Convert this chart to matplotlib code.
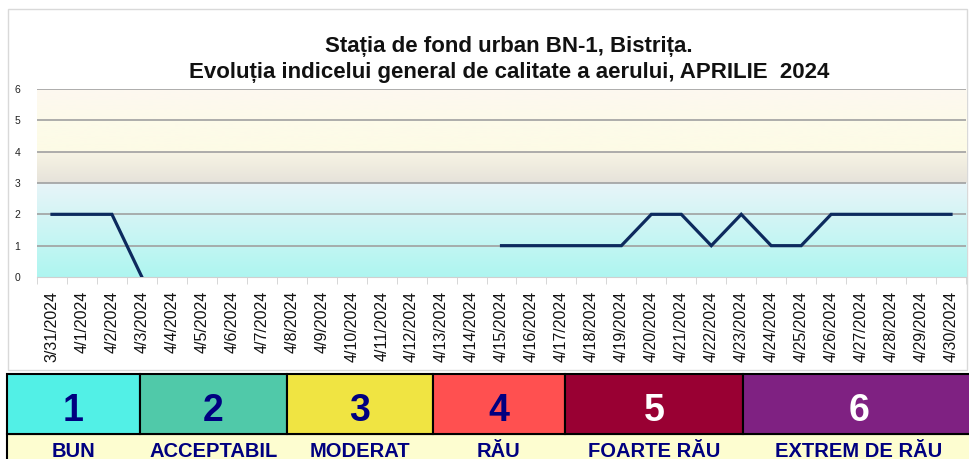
import numpy as np
import matplotlib
matplotlib.use("Agg")
import matplotlib.pyplot as plt
from matplotlib.colors import to_rgb
from matplotlib.patches import Rectangle

# ---- data ----
dates = ["3/31/2024"] + [f"4/{d}/2024" for d in range(1, 31)]
values = [2, 2, 2, 0] + [np.nan] * 11 + [1, 1, 1, 1, 1, 2, 2, 1, 2, 1, 1, 2, 2, 2, 2, 2]
yticks = [0, 1, 2, 3, 4, 5, 6]
title_lines = ["Stația de fond urban BN-1, Bistrița.",
               "Evoluția indicelui general de calitate a aerului, APRILIE  2024"]
legend_nums = ["1", "2", "3", "4", "5", "6"]
legend_names = ["BUN", "ACCEPTABIL", "MODERAT", "RĂU", "FOARTE RĂU", "EXTREM DE RĂU"]
legend_colors = ["#52f0e6", "#50c9a9", "#f0e442", "#ff5050", "#990033", "#7f2182"]
legend_text_colors = ["#000080", "#000080", "#000080", "#000080", "white", "white"]
legend_edges = [7, 140, 287, 433, 565, 743, 975]

W, H = 969, 459
plt.rcParams['font.family'] = ['Liberation Sans', 'DejaVu Sans']
fig = plt.figure(figsize=(W / 100, H / 100), dpi=100)

def fx(x):
    return x / W

def fy(y):
    return 1 - y / H

# chart frame
fig.patches.append(Rectangle((fx(8), fy(370)), fx(959), 361 / H, transform=fig.transFigure,
                             facecolor="white", edgecolor="#d9d9d9", lw=1.0, zorder=-5))

ax = fig.add_axes([fx(37), fy(277), fx(966 - 37), 188 / H])
ax.set_zorder(1)
n = len(dates)
x = np.arange(n)

# background gradient bands
stops = [(0.0, "#aef6f0"), (3.0, "#e8f4f8"), (3.0001, "#e6e2da"), (4.0, "#f7f4e4"),
         (4.0001, "#fdfbe6"), (5.0, "#fdfbea"), (6.0, "#fdf8f0")]
ys = np.linspace(0, 6, 600)
sy = [s[0] for s in stops]
cols = np.array([to_rgb(s[1]) for s in stops])
img = np.stack([np.interp(ys, sy, cols[:, k]) for k in range(3)], axis=-1)[:, None, :]
ax.imshow(img, extent=[-0.5, n - 0.5, 0, 6], origin="lower", aspect="auto", zorder=0)

for yv in yticks[1:]:
    ax.axhline(yv, color="#a0a0a0", lw=1.2, zorder=1)

ax.plot(x, values, color="#0d2a5e", lw=2.3, zorder=3, solid_joinstyle="miter")

ax.set_xlim(-0.5, n - 0.5)
ax.set_ylim(0, 6)
ax.set_yticks(yticks)
ax.set_yticklabels([str(v) for v in yticks], fontsize=7.5, color="#222222")
ax.tick_params(axis="y", length=0, pad=12)
ax.set_xticks(x)
ax.set_xticklabels(dates, rotation=90, fontsize=11.5, color="#111111")
ax.set_xticks(np.arange(n + 1) - 0.5, minor=True)
ax.tick_params(axis="x", which="major", length=0, pad=10)
ax.tick_params(axis="x", which="minor", length=5, color="#d0d0d0")
for s in ["top", "right", "left"]:
    ax.spines[s].set_visible(False)
ax.spines["bottom"].set_color("#d0d0d0")

# title
fig.text(fx(509), fy(52), title_lines[0], ha="center", va="baseline",
         fontsize=16, fontweight="bold", color="#111111")
fig.text(fx(509), fy(78), title_lines[1], ha="center", va="baseline",
         fontsize=16, fontweight="bold", color="#111111")

# legend table
top1, bot1, bot2 = 374, 434, 480
for i in range(6):
    x0, x1 = legend_edges[i], legend_edges[i + 1]
    fig.patches.append(Rectangle((fx(x0), fy(bot1)), fx(x1 - x0), (bot1 - top1) / H,
                                 transform=fig.transFigure, facecolor=legend_colors[i],
                                 edgecolor="black", lw=1.5, zorder=2))
    fig.text(fx((x0 + x1) / 2), fy(421), legend_nums[i], ha="center", va="baseline",
             fontsize=27, fontweight="bold", color=legend_text_colors[i], zorder=3)
fig.patches.append(Rectangle((fx(7), fy(bot2)), fx(975 - 7), (bot2 - bot1) / H,
                             transform=fig.transFigure, facecolor="#fdfdd0",
                             edgecolor="black", lw=1.5, zorder=1))
for i in range(6):
    x0, x1 = legend_edges[i], legend_edges[i + 1]
    fig.text(fx((x0 + x1) / 2), fy(457), legend_names[i], ha="center", va="baseline",
             fontsize=14.5, fontweight="bold", color="#000080", zorder=3)

fig.savefig("out.png", dpi=100)
